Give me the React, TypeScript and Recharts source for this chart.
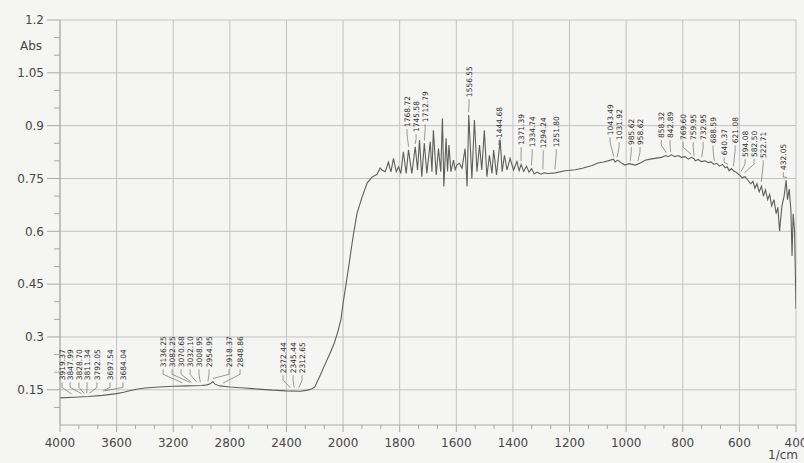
import React from 'react';
import { LineChart, Line, XAxis, YAxis, CartesianGrid, ReferenceLine, ReferenceDot } from 'recharts';

// spectrum: wavenumber (1/cm) and absorbance
const waveNumbers = [
  4000, 3900, 3800, 3700, 3600, 3550, 3500, 3450, 3400, 3300, 3200, 3100, 3000, 2960, 2935, 2920, 2905, 2870,
  2800, 2700, 2600, 2500, 2400, 2300, 2250, 2220, 2200, 2163, 2130, 2092, 2060, 2035, 2015, 2000, 1982, 1965,
  1951, 1933, 1915, 1898, 1880, 1869, 1863, 1851, 1840, 1831, 1822, 1812, 1804, 1796, 1787, 1777, 1769, 1757,
  1745, 1737, 1730, 1722, 1713, 1704, 1692, 1686, 1681, 1671, 1663, 1655, 1649, 1644, 1636, 1631, 1626, 1619,
  1610, 1604, 1598, 1589, 1580, 1569, 1562, 1556, 1545, 1536, 1527, 1518, 1510, 1501, 1492, 1483, 1474, 1468,
  1458, 1445, 1438, 1430, 1421, 1410, 1398, 1386, 1378, 1371, 1362, 1352, 1343, 1334, 1325, 1315, 1300, 1290,
  1276, 1250, 1216, 1180, 1155, 1120, 1099, 1080, 1064, 1045, 1039, 1030, 1015, 1004, 990, 968, 950, 933, 915,
  898, 875, 860, 852, 840, 828, 816, 805, 792, 780, 770, 760, 756, 745, 735, 721, 710, 700, 690, 680, 670, 660,
  650, 643, 636, 628, 621, 612, 600, 590, 580, 570, 560, 552, 545, 538, 530, 522, 515, 508, 500, 493, 486, 478,
  470, 464, 458, 450, 442, 435, 430, 424, 418, 414, 410, 405, 400,
];
const absValues = [
  0.127, 0.129, 0.131, 0.134, 0.139, 0.143, 0.148, 0.152, 0.155, 0.158, 0.16, 0.161, 0.162, 0.164, 0.168, 0.173, 0.166, 0.161,
  0.158, 0.155, 0.152, 0.149, 0.147, 0.146, 0.149, 0.153, 0.158, 0.19, 0.22, 0.254, 0.285, 0.318, 0.35, 0.395, 0.49, 0.583,
  0.65, 0.697, 0.737, 0.754, 0.762, 0.78, 0.774, 0.769, 0.796, 0.769, 0.807, 0.769, 0.783, 0.764, 0.826, 0.764, 0.831, 0.764,
  0.84, 0.774, 0.859, 0.755, 0.85, 0.764, 0.854, 0.769, 0.887, 0.76, 0.835, 0.769, 0.921, 0.727, 0.864, 0.77, 0.845, 0.769,
  0.802, 0.775, 0.788, 0.793, 0.779, 0.835, 0.727, 0.93, 0.75, 0.916, 0.769, 0.845, 0.774, 0.887, 0.755, 0.816, 0.764, 0.831,
  0.76, 0.859, 0.769, 0.816, 0.774, 0.807, 0.774, 0.798, 0.772, 0.79, 0.77, 0.785, 0.768, 0.778, 0.763, 0.768, 0.762, 0.766,
  0.764, 0.766, 0.772, 0.775, 0.779, 0.787, 0.794, 0.797, 0.8, 0.805, 0.797, 0.802, 0.793, 0.788, 0.792, 0.788, 0.794, 0.802, 0.805,
  0.807, 0.81, 0.815, 0.812, 0.817, 0.812, 0.815, 0.81, 0.812, 0.805, 0.81, 0.806, 0.8, 0.804, 0.798, 0.8, 0.795, 0.797, 0.79, 0.793, 0.785, 0.79,
  0.78, 0.783, 0.772, 0.778, 0.772, 0.768, 0.76, 0.752, 0.755, 0.745, 0.735, 0.742, 0.722, 0.735, 0.712, 0.728, 0.7, 0.718, 0.69, 0.705, 0.672, 0.69,
  0.65, 0.668, 0.6, 0.67, 0.7, 0.745, 0.69, 0.72, 0.66, 0.53, 0.65, 0.6, 0.38,
];

// peak picks: label text, where the leader touches, where the label sits
const peakNames = [
  '3919.37', '3847.99', '3828.70', '3811.34', '3792.05', '3697.54', '3684.04',
  '3136.25', '3082.25', '3070.68', '3032.10', '3008.95', '2954.95', '2918.37', '2848.86',
  '2372.44', '2345.44', '2312.65',
  '1768.72', '1745.58', '1712.79', '1556.55', '1444.68', '1371.39', '1334.74', '1294.24', '1251.80',
  '1043.49', '1031.92', '985.62', '958.62', '858.32', '842.89', '769.60', '759.95', '732.95', '688.59',
  '640.37', '621.08', '594.08', '582.50', '522.71', '432.05',
];
const peakTops = [
  0.138, 0.139, 0.139, 0.14, 0.14, 0.146, 0.147,
  0.17, 0.171, 0.171, 0.171, 0.172, 0.174, 0.182, 0.169,
  0.156, 0.156, 0.156,
  0.84, 0.848, 0.858, 0.938, 0.867, 0.8, 0.787, 0.776, 0.776,
  0.812, 0.81, 0.8, 0.8, 0.823, 0.825, 0.818, 0.814, 0.81, 0.8,
  0.79, 0.785, 0.77, 0.766, 0.74, 0.753,
];
const labelAt = [
  3986, 3929, 3866, 3809, 3739, 3647, 3555,
  3272, 3208, 3145, 3081, 3018, 2947, 2806, 2728,
  2424, 2353, 2290,
  1774, 1742, 1710, 1555, 1449, 1371, 1332, 1293, 1247,
  1057, 1025, 982, 951, 876, 845, 799, 763, 728, 693,
  654, 615, 580, 548, 516, 445,
];
const labelBase = [
  0.177, 0.177, 0.177, 0.177, 0.177, 0.177, 0.177,
  0.214, 0.214, 0.214, 0.214, 0.214, 0.214, 0.214, 0.214,
  0.197, 0.197, 0.197,
  0.896, 0.882, 0.91, 0.981, 0.865, 0.845, 0.839, 0.836, 0.839,
  0.873, 0.859, 0.845, 0.845, 0.865, 0.865, 0.859, 0.859, 0.859, 0.85,
  0.816, 0.85, 0.811, 0.811, 0.808, 0.774,
];

const xMajor = [4000, 3600, 3200, 2800, 2400, 2000, 1800, 1600, 1400, 1200, 1000, 800, 600, 400];
const yMajor = [0.15, 0.3, 0.45, 0.6, 0.75, 0.9, 1.05, 1.2];

// the instrument halves the scale above 2000 1/cm
const toPos = (wn: number) => (wn >= 2000 ? (4000 - wn) / 2 : 1000 + (2000 - wn));
const fromPos = (p: number) => (p <= 1000 ? 4000 - 2 * p : 2000 - (p - 1000));

const thirds = (major: number[]) => {
  const out: number[] = [];
  for (let i = 0; i < major.length - 1; i++) {
    const a = major[i];
    const d = major[i + 1] - a;
    out.push(a, a + d / 3, a + (2 * d) / 3);
  }
  out.push(major[major.length - 1]);
  return out;
};

const xMajorPos = xMajor.map(toPos);
const xTicks = thirds(xMajorPos);
const yTicks = [0.1, ...thirds(yMajor)];

const data = waveNumbers.map((wn, i) => ({ pos: toPos(wn), abs: absValues[i] }));

const FONT = '"DejaVu Sans", Verdana, sans-serif';
const GRID = '#c2c2c2';

const XTick = ({ x, y, payload }: any) => {
  const major = xMajorPos.some((m) => Math.abs(m - payload.value) < 0.01);
  return (
    <g>
      <line x1={x} x2={x} y1={y} y2={y + (major ? 7 : 4)} stroke="#a8a8a8" />
      {major && (
        <text x={x} y={y + 18} dy="0.35em" textAnchor="middle" fontSize={12} fill="#474747" fontFamily={FONT}>
          {Math.round(fromPos(payload.value))}
        </text>
      )}
    </g>
  );
};

const YTick = ({ x, y, payload }: any) => {
  const major = yMajor.some((m) => Math.abs(m - payload.value) < 1e-6);
  return (
    <g>
      <line x1={x - (major ? 13 : 6)} x2={x} y1={y} y2={y} stroke="#a8a8a8" />
      {major && (
        <text x={x - 16} y={y} dy="0.35em" textAnchor="end" fontSize={12} fill="#474747" fontFamily={FONT}>
          {payload.value}
        </text>
      )}
    </g>
  );
};

const peakLabel = (text: string) => (props: any) => (
  <text
    x={props.cx}
    y={props.cy}
    dy="0.35em"
    transform={`rotate(-90 ${props.cx} ${props.cy})`}
    fontSize={7.5}
    fill="#2e2e2e"
    fontFamily={FONT}
  >
    {text}
  </text>
);

export default function App() {
  return (
    <div style={{ position: 'relative', width: 804, height: 463, background: '#f5f5f3', overflow: 'hidden' }}>
      <style>{'body{margin:0;background:#f5f5f3}'}</style>
      <LineChart width={804} height={463} data={data} margin={{ top: 20, right: 8, bottom: 0, left: 0 }}>
        <CartesianGrid stroke={GRID} verticalValues={xMajorPos} horizontalValues={yMajor} />
        <XAxis
          type="number"
          dataKey="pos"
          domain={[0, 2600]}
          ticks={xTicks}
          interval={0}
          tick={<XTick />}
          tickSize={0}
          tickMargin={0}
          tickLine={false}
          height={38}
          stroke="#a8a8a8"
          allowDataOverflow
        />
        <YAxis
          type="number"
          domain={[0.05, 1.2]}
          ticks={yTicks}
          interval={0}
          tick={<YTick />}
          tickSize={0}
          tickMargin={0}
          tickLine={false}
          width={60}
          stroke="#a8a8a8"
          allowDataOverflow
        />
        {peakNames.map((name, i) => {
          const lx = toPos(labelAt[i]);
          const knee = labelBase[i] - 0.02;
          return (
            <React.Fragment key={name}>
              <ReferenceLine
                segment={[{ x: lx, y: labelBase[i] - 0.006 }, { x: lx, y: knee }]}
                stroke="#707070"
                strokeWidth={0.7}
                ifOverflow="visible"
              />
              <ReferenceLine
                segment={[{ x: lx, y: knee }, { x: toPos(parseFloat(name)), y: peakTops[i] }]}
                stroke="#707070"
                strokeWidth={0.7}
                ifOverflow="visible"
              />
              <ReferenceDot x={lx} y={labelBase[i]} r={0} shape={peakLabel(name)} ifOverflow="visible" />
            </React.Fragment>
          );
        })}
        <Line
          type="linear"
          dataKey="abs"
          stroke="#5e5e5e"
          strokeWidth={1.1}
          dot={false}
          isAnimationActive={false}
        />
      </LineChart>
      <div style={{ position: 'absolute', left: 20, top: 39, fontSize: 12, color: '#474747', fontFamily: FONT }}>Abs</div>
      <div style={{ position: 'absolute', left: 768, top: 448, fontSize: 12, color: '#474747', fontFamily: FONT }}>1/cm</div>
    </div>
  );
}
